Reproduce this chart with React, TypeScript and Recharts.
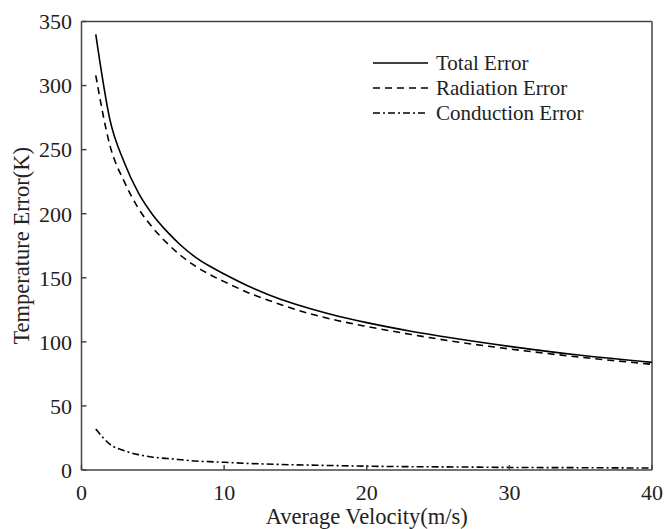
import React from 'react';
import { LineChart, Line, XAxis, YAxis, Legend, CartesianGrid } from 'recharts';

const velocity = [1, 2, 3, 4, 5, 6, 7, 8, 9, 10, 12, 14, 16, 18, 20, 23, 26, 30, 35, 40];
const totalError = [340, 273, 240, 216, 199, 186, 175, 166, 159, 153, 142, 133, 126, 120, 115, 108.5, 103, 96.5, 89.5, 84];
const radiationError = [308, 253, 225, 204, 189, 177, 167, 159, 152.5, 147, 137, 129, 122, 116.5, 112, 106, 100.5, 94.5, 88, 82.5];
const conductionError = [32, 20, 15, 12, 10, 9, 8, 7, 6.5, 6, 5, 4.3, 3.8, 3.4, 3, 2.6, 2.4, 2, 1.8, 1.5];
const xTicks = [0, 10, 20, 30, 40];
const yTicks = [0, 50, 100, 150, 200, 250, 300, 350];
const seriesNames = ['Total Error', 'Radiation Error', 'Conduction Error'];

const data = velocity.map((v, i) => ({
  v,
  total: totalError[i],
  radiation: radiationError[i],
  conduction: conductionError[i],
}));

const FONT = '"Liberation Serif", serif';
const AXIS = '#444';
const TXT = '#222';
const dashes = [undefined, '7 5', '7 3 2 3'];
const X_MAX = 40;
const Y_MAX = 350;

const LegendBox = () => (
  <svg width={300} height={80} style={{ display: 'block', overflow: 'visible' }}>
    {seriesNames.map((n, i) => (
      <g key={n}>
        <line x1={5} x2={60} y1={15 + i * 25} y2={15 + i * 25} stroke="#000" strokeWidth={1.6} strokeDasharray={dashes[i]} />
        <text x={68} y={15 + i * 25} dominantBaseline="central" fontFamily={FONT} fontSize={21} fill={TXT}>{n}</text>
      </g>
    ))}
  </svg>
);

const XLabel = (props: any) => {
  const vb = props.viewBox;
  return (
    <text x={vb.x + vb.width / 2} y={516} textAnchor="middle" fontFamily={FONT} fontSize={22.5} fill={TXT}>
      Average Velocity(m/s)
    </text>
  );
};

const YLabel = (props: any) => {
  const vb = props.viewBox;
  const cy = vb.y + vb.height / 2;
  return (
    <text x={13} y={cy} transform={`rotate(-90, 13, ${cy})`} textAnchor="middle" dominantBaseline="central" fontFamily={FONT} fontSize={22.5} fill={TXT}>
      Temperature Error(K)
    </text>
  );
};

export default function App() {
  const tickStyle = { fontFamily: FONT, fontSize: 22, fill: TXT };
  const axisLine = { stroke: AXIS, strokeWidth: 1.5 };
  return (
    <div style={{ position: 'absolute', left: 8, top: 8 }}>
      <LineChart width={656} height={521} data={data} margin={{ top: 13.5, right: 12, bottom: 0, left: 0 }}>
        <CartesianGrid stroke="#444444" strokeWidth={1.5}
          horizontalCoordinatesGenerator={(p: any) => [p.offset.top]}
          verticalCoordinatesGenerator={(p: any) => [p.offset.left + p.offset.width]} />
        <XAxis dataKey="v" type="number" domain={[0, X_MAX]} ticks={xTicks} height={59}
          tickSize={-5} tickMargin={19} tick={tickStyle} axisLine={axisLine}
          tickLine={axisLine} label={<XLabel />} />
        <YAxis type="number" domain={[0, Y_MAX]} ticks={yTicks} width={73.5}
          tickSize={-5} tickMargin={14.5} tick={tickStyle} axisLine={axisLine}
          tickLine={axisLine} label={<YLabel />} />
        <Line type="monotone" dataKey="total" name={seriesNames[0]} stroke="#000" strokeWidth={1.6} dot={false} isAnimationActive={false} />
        <Line type="monotone" dataKey="radiation" name={seriesNames[1]} stroke="#000" strokeWidth={1.6} strokeDasharray="7 5" dot={false} isAnimationActive={false} />
        <Line type="monotone" dataKey="conduction" name={seriesNames[2]} stroke="#000" strokeWidth={1.6} strokeDasharray="7 3 2 3" dot={false} isAnimationActive={false} />
        <Legend layout="vertical" align="center" verticalAlign="middle" content={<LegendBox />}
          wrapperStyle={{ position: 'absolute', left: 360, top: 40, width: 300, height: 80 }} />
      </LineChart>
    </div>
  );
}
